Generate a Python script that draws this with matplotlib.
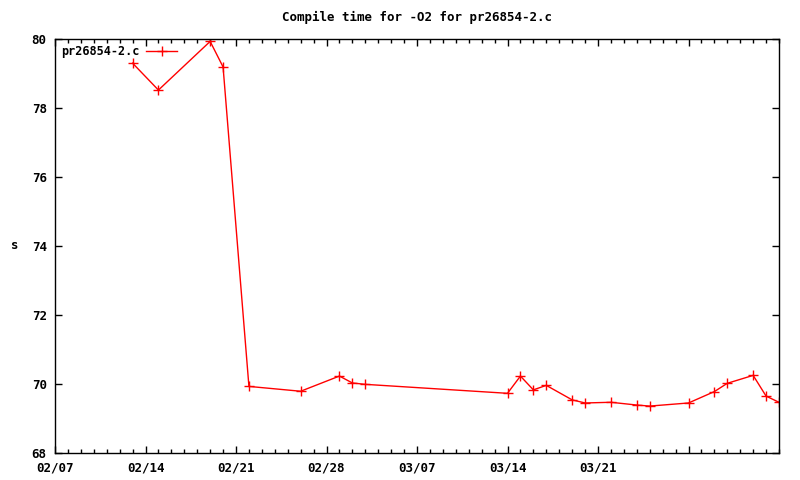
import matplotlib
matplotlib.use("Agg")
import matplotlib.pyplot as plt
import matplotlib.dates as mdates
import pandas as pd

dates = ["2006-02-13", "2006-02-15", "2006-02-19", "2006-02-20", "2006-02-22",
         "2006-02-26", "2006-03-01", "2006-03-02", "2006-03-03", "2006-03-14",
         "2006-03-15", "2006-03-16", "2006-03-17", "2006-03-19", "2006-03-20",
         "2006-03-22", "2006-03-24", "2006-03-25", "2006-03-28", "2006-03-30",
         "2006-03-31", "2006-04-02", "2006-04-03", "2006-04-04"]
seconds = [79.30, 78.52, 79.93, 79.19, 69.93, 69.79, 70.23, 70.03, 69.99, 69.73,
           70.23, 69.83, 69.96, 69.54, 69.45, 69.47, 69.39, 69.36, 69.45, 69.78,
           70.02, 70.25, 69.65, 69.47]
major_ticks = ["2006-02-07", "2006-02-14", "2006-02-21", "2006-02-28",
               "2006-03-07", "2006-03-14", "2006-03-21", "2006-03-28"]
major_labels = ["02/07", "02/14", "02/21", "02/28", "03/07", "03/14", "03/21", ""]

x = pd.to_datetime(dates)
font = {"family": "DejaVu Sans Mono", "weight": "bold", "size": 9}

fig = plt.figure(figsize=(8, 4.8), dpi=100)
ax = fig.add_axes([0.06875, 0.05625, 0.905, 0.8625])

ax.plot(x, seconds, color="red", linewidth=1, marker="+", markersize=7,
        markeredgewidth=1, label="pr26854-2.c")

ax.set_xlim(pd.Timestamp("2006-02-07"), pd.Timestamp("2006-04-04"))
ax.set_ylim(68, 80)
ax.set_yticks([68, 70, 72, 74, 76, 78, 80])
ax.set_xticks(pd.to_datetime(major_ticks))
ax.set_xticklabels(major_labels)
ax.xaxis.set_minor_locator(mdates.DayLocator())

ax.tick_params(which="both", direction="in", top=True, right=True, width=1)
ax.tick_params(which="major", length=5, pad=6)
ax.tick_params(which="minor", length=3)
for lab in ax.get_xticklabels() + ax.get_yticklabels():
    lab.set_fontproperties(font)
for s in ax.spines.values():
    s.set_linewidth(1)

ax.set_title("Compile time for -O2 for pr26854-2.c", fontdict=font, pad=13)
ax.set_ylabel("s", fontdict=font, rotation=0, labelpad=12, va="center")

font_leg = dict(font, size=8.5)
ax.legend(loc="upper left", frameon=False, markerfirst=False, handlelength=2.6,
          prop=font_leg, borderaxespad=0.1, handletextpad=0.6)

fig.savefig("out.png")
